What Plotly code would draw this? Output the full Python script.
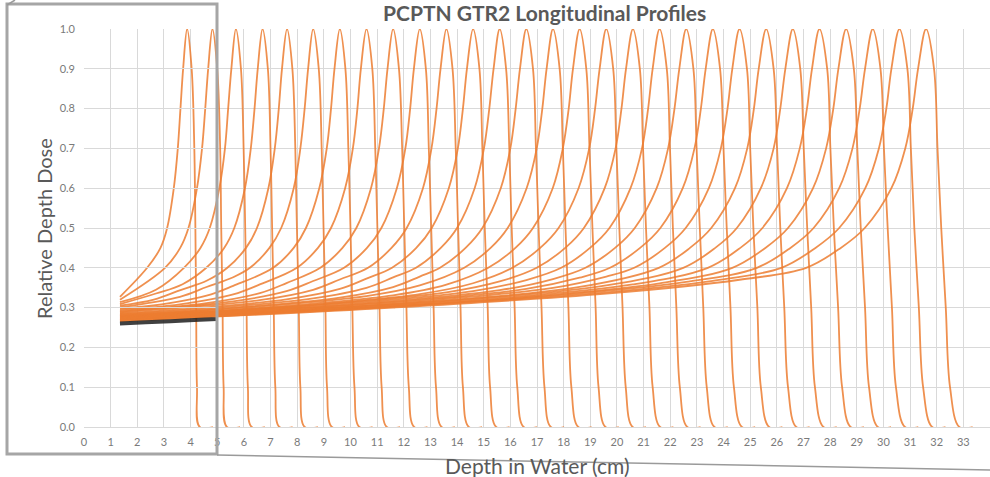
import plotly.graph_objects as go

# ---- text ----
TITLE = "PCPTN GTR2 Longitudinal Profiles"
X_TITLE = "Depth in Water (cm)"
Y_TITLE = "Relative Depth Dose"

X_TICKS = list(range(0, 35))
Y_TICKS = [0.0, 0.1, 0.2, 0.3, 0.4, 0.5, 0.6, 0.7, 0.8, 0.9, 1.0]
Y_TICK_LABELS = ["0.0", "0.1", "0.2", "0.3", "0.4", "0.5", "0.6", "0.7", "0.8", "0.9", "1.0"]

# ---- measured depth-dose profiles ----
START_DEPTH = 1.35          # first measured depth (cm)
TAIL_LENGTH = 0.5           # zero-dose readings recorded past the distal edge (cm)

# depth of the Bragg peak for each energy layer (cm)
PEAK_DEPTH = [3.87, 4.82, 5.70, 6.70, 7.62, 8.60, 9.60, 10.60, 11.60, 12.60,
              13.60, 14.60, 15.60, 16.60, 17.60, 18.60, 19.60, 20.60, 21.60, 22.60,
              23.60, 24.60, 25.60, 26.60, 27.60, 28.60, 29.60, 30.60, 31.60]

# relative dose at the first measured depth
ENTRANCE_DOSE = [0.327, 0.320, 0.314, 0.309, 0.305, 0.301, 0.298, 0.295, 0.292, 0.290,
                 0.288, 0.286, 0.284, 0.282, 0.281, 0.279, 0.278, 0.277, 0.276, 0.275,
                 0.274, 0.273, 0.272, 0.271, 0.270, 0.269, 0.268, 0.267, 0.266]

# plateau of the deepest layer: residual range before the peak (cm) -> relative dose
PLATEAU_RESIDUAL = [20.0, 12.0, 7.0, 5.0, 4.0, 3.0, 1.5]
PLATEAU_DOSE = [0.300, 0.335, 0.370, 0.400, 0.430, 0.460, 0.575]

# plateau height of each layer relative to the deepest one
PLATEAU_SCALE = [0.660, 0.720, 0.750, 0.780, 0.800, 0.818, 0.825, 0.833, 0.841, 0.853,
                 0.862, 0.867, 0.874, 0.879, 0.889, 0.894, 0.903, 0.914, 0.923, 0.929,
                 0.938, 0.945, 0.951, 0.961, 0.968, 0.975, 0.985, 0.993, 1.000]

# proximal distance (cm) before the peak at which the dose reaches a given level
RISE_40 = [1.50, 1.78, 1.95, 2.11, 2.24, 2.37, 2.50, 2.61, 2.73, 2.84,
           2.94, 3.04, 3.14, 3.24, 3.33, 3.43, 3.52, 3.61, 3.69, 3.78,
           3.86, 3.95, 4.03, 4.11, 4.19, 4.27, 4.35, 4.43, 4.50]
RISE_45 = [1.00, 1.21, 1.33, 1.44, 1.54, 1.64, 1.73, 1.82, 1.90, 1.98,
           2.06, 2.13, 2.21, 2.28, 2.34, 2.41, 2.48, 2.54, 2.61, 2.67,
           2.73, 2.80, 2.86, 2.91, 2.97, 3.03, 3.09, 3.15, 3.20]
RISE_50 = [0.75, 0.90, 0.98, 1.06, 1.13, 1.20, 1.27, 1.33, 1.38, 1.44,
           1.49, 1.55, 1.60, 1.65, 1.70, 1.75, 1.79, 1.84, 1.88, 1.93,
           1.97, 2.02, 2.06, 2.10, 2.14, 2.18, 2.22, 2.26, 2.30]
RISE_60 = [0.50, 0.58, 0.62, 0.66, 0.70, 0.73, 0.77, 0.80, 0.83, 0.86,
           0.88, 0.91, 0.94, 0.96, 0.99, 1.01, 1.04, 1.06, 1.09, 1.11,
           1.13, 1.15, 1.17, 1.20, 1.22, 1.24, 1.26, 1.28, 1.30]
RISE_70 = [0.35, 0.39, 0.41, 0.44, 0.46, 0.48, 0.49, 0.51, 0.53, 0.54,
           0.56, 0.57, 0.59, 0.60, 0.61, 0.63, 0.64, 0.65, 0.66, 0.68,
           0.69, 0.70, 0.71, 0.72, 0.74, 0.75, 0.76, 0.77, 0.78]
RISE_80 = [0.25, 0.27, 0.29, 0.30, 0.31, 0.32, 0.33, 0.34, 0.35, 0.36,
           0.37, 0.38, 0.39, 0.40, 0.40, 0.41, 0.42, 0.43, 0.43, 0.44,
           0.45, 0.45, 0.46, 0.47, 0.47, 0.48, 0.49, 0.49, 0.50]
RISE_90 = [0.15, 0.16, 0.17, 0.18, 0.19, 0.19, 0.20, 0.21, 0.21, 0.22,
           0.22, 0.23, 0.23, 0.24, 0.24, 0.25, 0.25, 0.26, 0.26, 0.26,
           0.27, 0.27, 0.28, 0.28, 0.28, 0.29, 0.29, 0.30, 0.30]

# distal distance (cm) past the peak at which the dose has fallen to a given level
FALL_90 = [0.17, 0.18, 0.19, 0.20, 0.20, 0.21, 0.21, 0.22, 0.22, 0.23,
           0.23, 0.24, 0.24, 0.25, 0.25, 0.25, 0.26, 0.26, 0.27, 0.27,
           0.27, 0.28, 0.28, 0.28, 0.29, 0.29, 0.29, 0.30, 0.30]
FALL_70 = [0.27, 0.29, 0.29, 0.30, 0.31, 0.32, 0.32, 0.33, 0.34, 0.34,
           0.35, 0.35, 0.36, 0.36, 0.37, 0.37, 0.38, 0.38, 0.39, 0.39,
           0.40, 0.40, 0.41, 0.41, 0.41, 0.42, 0.42, 0.43, 0.43]
FALL_50 = [0.31, 0.33, 0.35, 0.36, 0.37, 0.39, 0.40, 0.41, 0.42, 0.43,
           0.44, 0.44, 0.45, 0.46, 0.47, 0.48, 0.49, 0.49, 0.50, 0.51,
           0.52, 0.52, 0.53, 0.54, 0.54, 0.55, 0.56, 0.56, 0.57]
FALL_30 = [0.34, 0.38, 0.40, 0.42, 0.44, 0.46, 0.47, 0.49, 0.50, 0.52,
           0.53, 0.55, 0.56, 0.57, 0.58, 0.60, 0.61, 0.62, 0.63, 0.64,
           0.66, 0.67, 0.68, 0.69, 0.70, 0.71, 0.72, 0.73, 0.74]
FALL_10 = [0.37, 0.42, 0.45, 0.48, 0.50, 0.52, 0.55, 0.57, 0.59, 0.61,
           0.62, 0.64, 0.66, 0.68, 0.69, 0.71, 0.73, 0.74, 0.76, 0.77,
           0.79, 0.80, 0.82, 0.83, 0.85, 0.86, 0.87, 0.89, 0.90]
FALL_0 = [0.47, 0.54, 0.59, 0.63, 0.66, 0.70, 0.73, 0.76, 0.79, 0.82,
          0.84, 0.87, 0.90, 0.92, 0.95, 0.97, 0.99, 1.02, 1.04, 1.06,
          1.09, 1.11, 1.13, 1.15, 1.17, 1.19, 1.21, 1.23, 1.25]

RISE_TABLE = [(0.40, RISE_40), (0.45, RISE_45), (0.50, RISE_50), (0.60, RISE_60),
              (0.70, RISE_70), (0.80, RISE_80), (0.90, RISE_90)]
FALL_TABLE = [(0.90, FALL_90), (0.70, FALL_70), (0.50, FALL_50), (0.30, FALL_30),
              (0.10, FALL_10), (0.00, FALL_0)]

# ---- styling ----
CURVE_COLOR = "#ED7D31"
GRID_COLOR = "#d9d9d9"
TEXT_COLOR = "#595959"
TICK_COLOR = "#7a7a7a"
CALLOUT_COLOR = "#a6a6a6"
FONT = "Lato, 'Open Sans', sans-serif"

W, H = 990, 477
M_L, M_R, M_T, M_B = 84, 0, 29, 50
X_MAX = 34.0


def profile(i):
    """Depth/dose points of one energy layer, entrance to distal tail."""
    peak = PEAK_DEPTH[i]
    k = PLATEAU_SCALE[i]
    xs = [START_DEPTH]
    ys = [ENTRANCE_DOSE[i]]
    for r, d in zip(PLATEAU_RESIDUAL, PLATEAU_DOSE):
        depth = peak - r
        dose = k * d
        if depth > START_DEPTH + 0.5 and r > RISE_40[i] + 0.5 and dose < 0.38:
            xs.append(depth)
            ys.append(dose)
    for level, dist in RISE_TABLE:
        xs.append(peak - dist[i])
        ys.append(level)
    xs.append(peak)
    ys.append(1.0)
    for level, dist in FALL_TABLE:
        xs.append(peak + dist[i])
        ys.append(level)
    xs.append(peak + FALL_0[i] + TAIL_LENGTH)
    ys.append(0.0)
    return xs, ys


def px_x(px):
    return (px - M_L) / (W - M_L - M_R)


def px_y(py):
    return (H - M_B - py) / (H - M_T - M_B)


fig = go.Figure()

# drop shadow under the entrance region of the deepest layer (inside the callout)
box_right = 217
box_frac = px_x(box_right)
sx, sy = profile(len(PEAK_DEPTH) - 1)
fig.add_trace(go.Scatter(
    x=sx, y=[v - 0.006 for v in sy], xaxis="x2", yaxis="y",
    mode="lines", line=dict(color="rgba(30,30,30,0.85)", width=4, shape="spline", smoothing=1.0),
    hoverinfo="skip", showlegend=False,
))

for i in range(len(PEAK_DEPTH)):
    xs, ys = profile(i)
    fig.add_trace(go.Scatter(
        x=xs, y=ys, mode="lines",
        line=dict(color=CURVE_COLOR, width=1.8, shape="spline", smoothing=1.0),
        opacity=0.85, showlegend=False,
        name=f"{PEAK_DEPTH[i]:.1f} cm",
    ))

axis_common = dict(
    showgrid=True, gridcolor=GRID_COLOR, gridwidth=1, zeroline=False,
    ticks="", tickfont=dict(family=FONT, size=11, color=TICK_COLOR),
)

fig.update_layout(
    width=W, height=H,
    margin=dict(l=M_L, r=M_R, t=M_T, b=M_B),
    paper_bgcolor="white", plot_bgcolor="rgba(0,0,0,0)",
    showlegend=False,
    font=dict(family=FONT, color=TEXT_COLOR),
    xaxis=dict(range=[0, X_MAX], tickvals=X_TICKS, showline=True, linecolor=GRID_COLOR,
               ticklabelstandoff=5, **axis_common),
    xaxis2=dict(range=[0, X_MAX * box_frac], domain=[0, box_frac], anchor="y",
                visible=False, showgrid=False),
    yaxis=dict(range=[0, 1.0], tickvals=Y_TICKS, ticktext=Y_TICK_LABELS,
               ticklabelstandoff=8, **axis_common),
)

fig.add_annotation(text=f"<b>{TITLE}</b>", xref="paper", yref="paper",
                   x=px_x(544), y=px_y(27), xanchor="center", yanchor="bottom",
                   showarrow=False, font=dict(family=FONT, size=21, color=TEXT_COLOR))
fig.add_annotation(text=Y_TITLE, xref="paper", yref="paper",
                   x=px_x(44), y=px_y(229), xanchor="center", yanchor="middle",
                   textangle=-90, showarrow=False,
                   font=dict(family=FONT, size=20, color=TEXT_COLOR))
fig.add_annotation(text=X_TITLE, xref="paper", yref="paper",
                   x=px_x(537), y=px_y(465), xanchor="center", yanchor="middle",
                   showarrow=False, font=dict(family=FONT, size=21, color=TEXT_COLOR))

# callout frame with its leader lines
fig.add_shape(type="rect", xref="paper", yref="paper",
              x0=px_x(7), y0=px_y(454), x1=px_x(box_right), y1=px_y(4),
              line=dict(color=CALLOUT_COLOR, width=3), layer="above")
fig.add_shape(type="line", xref="paper", yref="paper",
              x0=px_x(box_right), y0=px_y(455), x1=px_x(990), y1=px_y(470),
              line=dict(color="#9a9a9a", width=1.5), layer="above")
fig.add_shape(type="line", xref="paper", yref="paper",
              x0=px_x(7), y0=px_y(5), x1=px_x(15), y1=px_y(0),
              line=dict(color="#9a9a9a", width=1.5), layer="above")

fig.write_html("out.html")
